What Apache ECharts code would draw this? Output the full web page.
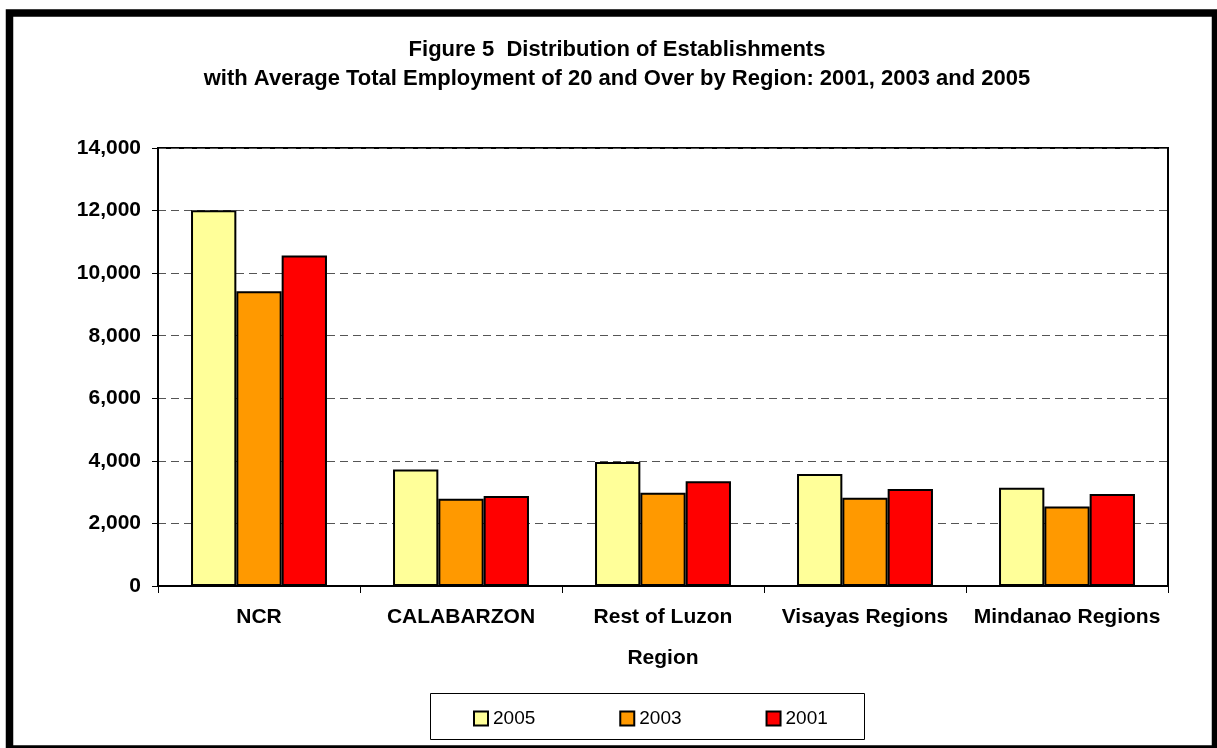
<!DOCTYPE html>
<html>
<head>
<meta charset="utf-8">
<style>
html,body{margin:0;padding:0;background:#fff;}
#c{width:1217px;height:748px;}
</style>
<script src="https://cdn.jsdelivr.net/npm/echarts@6/dist/echarts.min.js"></script>
</head>
<body>
<div id="c"></div>
<script>
const categories = ['NCR', 'CALABARZON', 'Rest of Luzon', 'Visayas Regions', 'Mindanao Regions'];
const values2005 = [12010, 3720, 3965, 3580, 3140];
const values2003 = [9420, 2790, 2980, 2820, 2545];
const values2001 = [10565, 2875, 3345, 3100, 2940];
const seriesNames = ['2005', '2003', '2001'];
const seriesColors = ['#FFFF99', '#FF9900', '#FF0000'];
const titleLines = ['Figure 5  Distribution of Establishments', 'with Average Total Employment of 20 and Over by Region: 2001, 2003 and 2005'];

const chart = echarts.init(document.getElementById('c'));
const font = '"Liberation Sans", Arial, sans-serif';
const seriesData = [values2005, values2003, values2001];

chart.setOption({
  animation: false,
  backgroundColor: '#fff',
  title: {
    text: titleLines.join('\n'),
    left: 612, top: 30, textAlign: 'center',
    textStyle: { fontFamily: font, fontWeight: 'bold', fontSize: 22, lineHeight: 29, color: '#000' }
  },
  grid: { left: 158, right: 49, top: 148, bottom: 162, show: true, borderColor: '#000', borderWidth: 2, backgroundColor: 'transparent' },
  xAxis: {
    type: 'category', data: categories,
    name: 'Region', nameLocation: 'middle', nameGap: 62,
    nameTextStyle: { fontFamily: font, fontWeight: 'bold', fontSize: 21, color: '#000' },
    axisLine: { lineStyle: { color: '#000', width: 2 } },
    axisTick: { show: true, interval: 0, length: 7, lineStyle: { color: '#000', width: 1 } },
    axisLabel: { interval: 0, margin: 21, fontFamily: font, fontWeight: 'bold', fontSize: 21, color: '#000' }
  },
  yAxis: {
    type: 'value', min: 0, max: 14000, interval: 2000,
    axisLine: { show: true, lineStyle: { color: '#000', width: 2 } },
    axisTick: { show: true, length: 6, lineStyle: { color: '#000', width: 1 } },
    axisLabel: { margin: 17, fontFamily: font, fontWeight: 'bold', fontSize: 21, color: '#000',
      formatter: v => v.toLocaleString('en-US') },
    splitLine: { show: true, lineStyle: { color: '#555', width: 1, type: [8, 5] } }
  },
  legend: {
    data: seriesNames,
    left: 473, top: 709, padding: 0, itemWidth: 14, itemHeight: 14, itemGap: 84,
    icon: 'rect',
    itemStyle: { borderColor: '#000', borderWidth: 2 },
    textStyle: { fontFamily: '"Liberation Sans Narrow", "Arial Narrow", sans-serif', fontSize: 19, color: '#000' }
  },
  graphic: [
    { type: 'rect', shape: { x: 430.5, y: 693.5, width: 434, height: 46 }, style: { fill: 'none', stroke: '#000', lineWidth: 1 }, z: 10, silent: true },
    { type: 'rect', shape: { x: 9.5, y: 13, width: 1206, height: 736 }, style: { fill: 'none', stroke: '#000', lineWidth: 7.5 }, z: 10, silent: true }
  ],
  series: seriesNames.map((n, i) => ({
    name: n, type: 'bar', data: seriesData[i],
    barGap: '0%', barCategoryGap: '32.7%',
    itemStyle: { color: seriesColors[i], borderColor: '#000', borderWidth: 2 }
  }))
});
</script>
</body>
</html>
